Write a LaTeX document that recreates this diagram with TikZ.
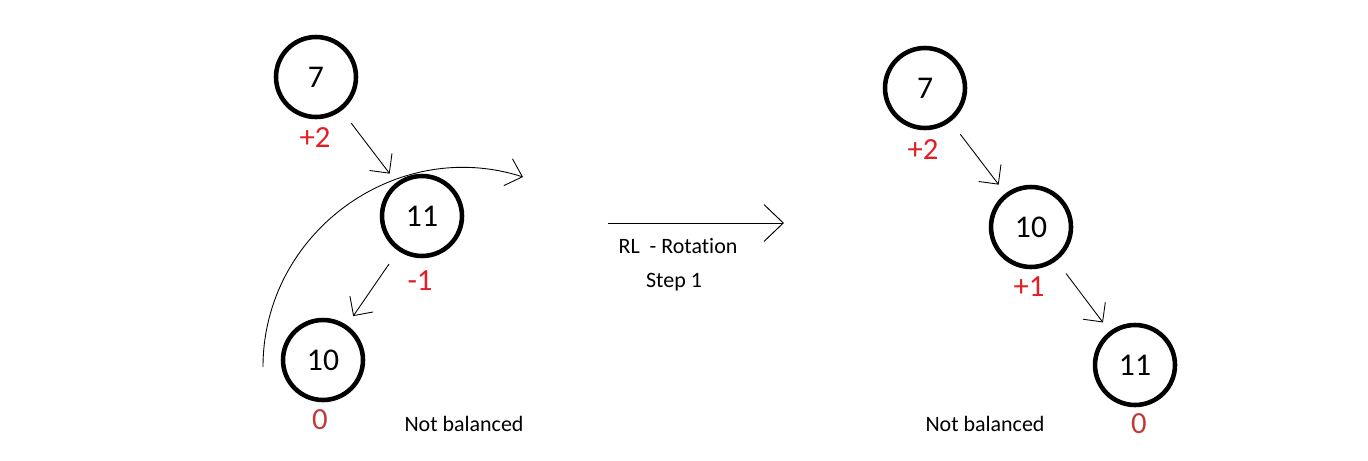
\documentclass[tikz,border=0pt]{standalone}
\usepackage{fontspec}
\setmainfont[Ligatures=NoCommon]{Carlito}
\usetikzlibrary{arrows.meta}

\definecolor{balred}{RGB}{228,30,38}
\definecolor{zerored}{RGB}{192,58,58}

\tikzset{
  knot/.style={circle, draw, line width=2.6pt, minimum size=1.6cm, inner sep=0pt,
    font=\fontsize{18}{20}\selectfont},
  bal/.style={text=balred, font=\fontsize{17.5}{20}\selectfont},
  zero/.style={text=zerored, font=\fontsize{17.5}{20}\selectfont},
  note/.style={anchor=base, font=\fontsize{12.5}{15}\selectfont},
  edge/.style={line width=0.5pt, shorten <=0.32cm, shorten >=0.22cm,
    -{Straight Barb[length=8pt,width=16pt]}}
}

\begin{document}
\begin{tikzpicture}[x=0.02cm,y=-0.02cm]
\useasboundingbox (0,0) rectangle (1368,460);

% vor der Rotation

\begin{scope}
\node[knot] (a) at (316,77) {7};
\node[knot] (b) at (422,216) {11};
\node[knot] (c) at (323,360) {10};

\node[bal] (ba) at (315,138) {+2};
\node[bal] (bb) at (420,281) {-1};
\node[zero] (bc) at (320,420) {0};

\draw[edge] (a) -- (b);
\draw[edge] (b) -- (c);

\coordinate (s) at (263,367);
\coordinate (e) at (523,177);
\draw[line width=0.5pt, -{Straight Barb[length=8.5pt,width=16pt]}]
  (s) .. controls (263,233) and (396,136) .. (e);

\node[note] (nl) at (464,431) {Not balanced};
\end{scope}

% Pfeil

\coordinate (p) at (608,223);
\coordinate (q) at (784,223);
\draw[line width=0.55pt, -{Straight Barb[length=11pt,width=21pt]}] (p) -- (q);
\node[note] (rl) at (678,253) {RL~~- Rotation};
\node[note] (st) at (674,287) {Step 1};

% nach Schritt 1

\begin{scope}
\node[knot] (a) at (925,88) {7};
\node[knot] (b) at (1031,227) {10};
\node[knot] (c) at (1135,365) {11};

\node[bal] (ba) at (923,150) {+2};
\node[bal] (bb) at (1029,287) {+1};
\node[zero] (bc) at (1139,424) {0};

\draw[edge] (a) -- (b);
\draw[edge] (b) -- (c);

\node[note] (nr) at (985,431) {Not balanced};
\end{scope}

\end{tikzpicture}
\end{document}
